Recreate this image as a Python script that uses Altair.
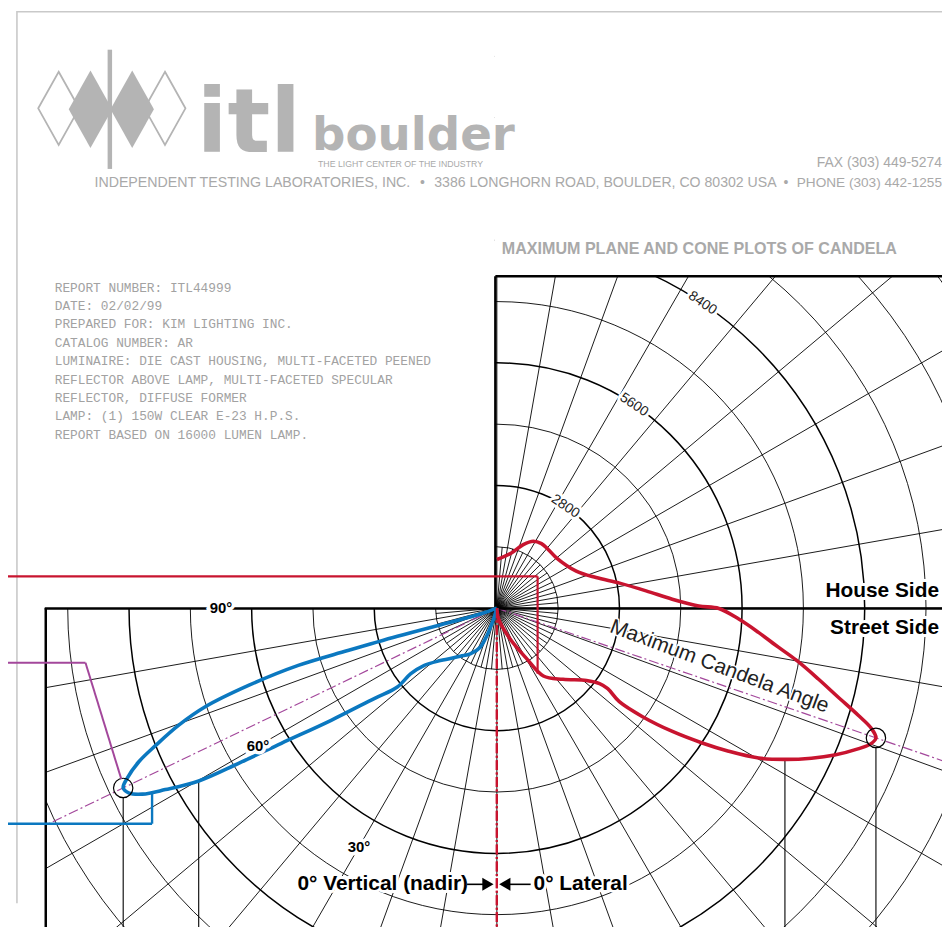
import altair as alt
import pandas as pd

# ---------------- values ----------------
# Cone plot of candela (red): lateral angle in degrees, 0 = "0° Lateral" (straight down), 180 = straight up
red_lateral_deg = [0, 8.8, 23.2, 30.5, 34.4, 42.9, 51.1, 53.7, 54.0, 52.6,
                   53.3, 54.9, 56.7, 58.3, 60.2, 62.3, 64.5, 66.5, 68.7, 70.1,
                   71.1, 72.2, 73.5, 75.4, 77.6, 80.1, 82.1, 84.7, 87.4, 89.9,
                   90.6, 92.9, 96.6, 101.5, 107.1, 115.0, 130.2, 138.8, 145.3, 151.4,
                   157.4, 164.9, 180.0]
red_candela = [0, 250, 770, 1340, 1880, 2220, 2630, 2910, 3130, 3520,
               4150, 4900, 5610, 6220, 6890, 7430, 7960, 8410, 8850, 9090,
               9150, 8980, 8600, 8050, 7510, 6950, 6490, 6000, 5530, 5070,
               4610, 4010, 3430, 2860, 2370, 2000, 1780, 1780, 1790, 1740,
               1570, 1310, 1110]

# Maximum plane (blue): vertical angle in degrees from nadir (0° Vertical)
blue_vertical_deg = [15, 16.7, 19.9, 23.0, 30.1, 37.2, 47.1, 51.8, 52.7, 51.6,
                     53.6, 55.9, 57.9, 59.0, 59.9, 61.3, 62.3, 63.3, 64.3, 65.3,
                     66.8, 68.1, 69.8, 71.3, 72.7, 73.9, 74.1, 74.2, 73.3, 70.2,
                     70]
blue_candela = [0, 260, 670, 970, 1210, 1380, 1760, 2120, 2470, 2900,
                3480, 4570, 5810, 6880, 7870, 8630, 9140, 9400, 9470, 9290,
                8890, 8390, 7740, 7030, 5940, 4720, 3540, 2360, 1180, 400,
                0]

ring_step = 1400            # candela between grid circles
ring_count = 10
ring_labels = [2800, 5600, 8400]
ring_label_angle = 34       # degrees from the upward axis
vertical_angle_labels = [90, 60, 30]
vertical_label_radius = 6300

report_lines = [
    "REPORT NUMBER: ITL44999",
    "DATE: 02/02/99",
    "PREPARED FOR: KIM LIGHTING INC.",
    "CATALOG NUMBER: AR",
    "LUMINAIRE: DIE CAST HOUSING, MULTI-FACETED PEENED",
    "REFLECTOR ABOVE LAMP, MULTI-FACETED SPECULAR",
    "REFLECTOR, DIFFUSE FORMER",
    "LAMP: (1) 150W CLEAR E-23 H.P.S.",
    "REPORT BASED ON 16000 LUMEN LAMP.",
]
address_parts = ["INDEPENDENT TESTING LABORATORIES, INC.",
                 "3386 LONGHORN ROAD, BOULDER, CO 80302 USA",
                 "PHONE (303) 442-1255"]
fax_text = "FAX (303) 449-5274"
tagline = "THE LIGHT CENTER OF THE INDUSTRY"
plot_title = "MAXIMUM PLANE AND CONE PLOTS OF CANDELA"

# ---------------- layout ----------------
W, H = 940, 922
PAGE = 8
K = 61.7 / ring_step            # pixels per candela
OX, OY = 500 - PAGE, 609 - PAGE  # photometric centre in chart pixels
XD = [-OX / K, (W - OX) / K]
YD = [-(H - OY) / K, OY / K]
RED = "#c8142f"
BLUE = "#0b78c0"
PURPLE = "#a3479b"
GREY = "#a9a9a9"
LOGO = "#b4b4b4"
SANS = "Liberation Sans"

XS = alt.Scale(domain=XD, nice=False, zero=False)
YS = alt.Scale(domain=YD, nice=False, zero=False)


def ex(f):
    return alt.X(f, type="quantitative", scale=XS, axis=None)


def ey(f):
    return alt.Y(f, type="quantitative", scale=YS, axis=None)


def px(x):
    return x - PAGE


def py(y):
    return y - PAGE


one = pd.DataFrame({"k": [0]})
layers = []


def seg(x1, y1, x2, y2, color, width, dash=None):
    kw = dict(color=color, strokeWidth=width)
    if dash:
        kw["strokeDash"] = dash
    return alt.Chart(one).mark_rule(**kw).encode(
        x=alt.value(px(x1)), y=alt.value(py(y1)), x2=alt.value(px(x2)), y2=alt.value(py(y2)))


def rect(x1, y1, x2, y2, color="white"):
    return alt.Chart(one).mark_rect(color=color, opacity=1).encode(
        x=alt.value(px(x1)), x2=alt.value(px(x2)), y=alt.value(py(y1)), y2=alt.value(py(y2)))


def label(txt, x, y, size, weight="normal", color="black", align="left",
          baseline="alphabetic", font=SANS, angle=0, halo=0):
    base = alt.Chart(pd.DataFrame({"t": [txt]}))
    kw = dict(align=align, baseline=baseline, font=font, fontSize=size,
              fontWeight=weight, angle=angle)
    enc = dict(x=alt.value(px(x)), y=alt.value(py(y)), text="t:N")
    out = []
    if halo:
        out.append(base.mark_text(color="white", stroke="white", strokeWidth=halo,
                                  strokeJoin="round", **kw).encode(**enc))
    out.append(base.mark_text(color=color, **kw).encode(**enc))
    return out


def symbol(shape, x, y, size, color, filled=True, sw=1.5):
    kw = dict(shape=shape, size=size, color=color, filled=filled, opacity=1)
    if not filled:
        kw["strokeWidth"] = sw
    return alt.Chart(one).mark_point(**kw).encode(x=alt.value(px(x)), y=alt.value(py(y)))


# ---------------- polar grid ----------------
rings = alt.Chart(pd.DataFrame({"n": list(range(1, ring_count + 1))})).transform_calculate(
    r=f"datum.n * {ring_step}",
    area=f"pow(2 * datum.r * {K}, 2)",
    sw="datum.n % 2 == 0 && datum.n <= 6 ? 1.5 : 0.9",
    o="0",
).mark_point(shape="circle", filled=False, color="black", opacity=1, clip=True).encode(
    x=ex("o:Q"), y=ey("o:Q"),
    size=alt.Size("area:Q", scale=None),
    strokeWidth=alt.StrokeWidth("sw:Q", scale=None),
)
layers.append(rings)

spoke_df = pd.DataFrame({
    "a": list(range(0, 360, 10)) + list(range(5, 360, 10)),
    "R": [30000] * 36 + [ring_step] * 36,
})
spokes = alt.Chart(spoke_df).transform_calculate(
    o="0",
    x2="datum.R * sin(datum.a * PI / 180)",
    y2="-datum.R * cos(datum.a * PI / 180)",
).mark_rule(color="black", strokeWidth=0.9, clip=True).encode(
    x=ex("o:Q"), y=ey("o:Q"), x2="x2:Q", y2="y2:Q")
layers.append(spokes)

# ---------------- curve tables ----------------
red_df = pd.DataFrame({"ang": red_lateral_deg, "cd": red_candela})
red_df["i"] = range(len(red_df))
red_df["sgn"] = 1
blue_df = pd.DataFrame({"ang": blue_vertical_deg, "cd": blue_candela})
blue_df["i"] = range(len(blue_df))
blue_df["sgn"] = -1

ri = red_candela.index(max(red_candela))
bi = blue_candela.index(max(blue_candela))
max_df = pd.DataFrame({
    "ang": [red_lateral_deg[ri], blue_vertical_deg[bi]],
    "cd": [red_candela[ri], blue_candela[bi]],
    "sgn": [1, -1],
})
XCALC = "datum.sgn * datum.cd * sin(datum.ang * PI / 180)"
YCALC = "-datum.cd * cos(datum.ang * PI / 180)"

# maximum candela angle lines (dash-dot)
maxlines = alt.Chart(max_df).transform_calculate(
    o="0",
    x2="datum.sgn * 30000 * sin(datum.ang * PI / 180)",
    y2="-30000 * cos(datum.ang * PI / 180)",
).mark_rule(color=PURPLE, strokeWidth=1.2, strokeDash=[10, 3, 2, 3], clip=True).encode(
    x=ex("o:Q"), y=ey("o:Q"), x2="x2:Q", y2="y2:Q")
layers.append(maxlines)

# projection lines dropped from the curves
drop_df = pd.DataFrame({
    "ang": [blue_vertical_deg[bi], blue_vertical_deg[14], red_lateral_deg[ri], red_lateral_deg[15]],
    "cd": [blue_candela[bi], blue_candela[14], red_candela[ri], red_candela[15]],
    "sgn": [-1, -1, 1, 1],
    "off": [9.5 / K, 0, 9.5 / K, 0],
})
drops = alt.Chart(drop_df).transform_calculate(
    x=XCALC, y=YCALC + " - datum.off", y2="-30000",
).mark_rule(color="black", strokeWidth=1.1, clip=True).encode(
    x=ex("x:Q"), y=ey("y:Q"), y2="y2:Q")
layers.append(drops)

# ---------------- masks outside the two plot frames ----------------
layers += [rect(PAGE, PAGE, 498, 609), rect(498, PAGE, PAGE + W, 275), rect(PAGE, 609, 46, PAGE + H)]
# gap around the nadir arrows
layers.append(rect(473, 879, 534, 894))

# frames
layers += [
    seg(498.5, 275, PAGE + W, 275, "black", 2.5),
    seg(498.5, 275, 498.5, 610, "black", 2.5),
    seg(45, 609.5, PAGE + W, 609.5, "black", 2.5),
    seg(46, 609, 46, PAGE + H, "black", 2.5),
]
# page border
layers += [
    seg(17, PAGE + 0.8, PAGE + W, PAGE + 0.8, "#c9c9c9", 1.6),
    seg(17, PAGE, 17, 906, "#c9c9c9", 1.6),
]

# nadir line
nadir = alt.Chart(one).transform_calculate(o="0", y2="-30000").mark_rule(
    color=RED, strokeWidth=2.2, strokeDash=[10, 2.5, 2, 2.5], clip=True).encode(
    x=ex("o:Q"), y=ey("o:Q"), y2="y2:Q")
layers.append(nadir)

# ---------------- curves ----------------
for df, col in [(red_df, RED), (blue_df, BLUE)]:
    layers.append(alt.Chart(df).transform_calculate(x=XCALC, y=YCALC).mark_line(
        color=col, strokeWidth=3.6, interpolate="catmull-rom", clip=True, strokeJoin="round").encode(
        x=ex("x:Q"), y=ey("y:Q"), order=alt.Order("i:Q")))

layers.append(alt.Chart(max_df).transform_calculate(x=XCALC, y=YCALC).mark_point(
    shape="circle", filled=False, color="black", size=380, strokeWidth=1.2, opacity=1).encode(
    x=ex("x:Q"), y=ey("y:Q")))

# leader lines to the (off-page) table
layers += [
    seg(PAGE, 577, 541, 577, RED, 2.2), seg(541, 577, 541, 675, RED, 2.2),
    seg(PAGE, 664, 86, 664, PURPLE, 2), seg(86, 664, 122, 781, PURPLE, 2),
    seg(PAGE, 826, 153, 826, BLUE, 2.4), seg(153, 826, 153, 795, BLUE, 2.4),
]

# ---------------- grid labels ----------------
ring_lab = alt.Chart(pd.DataFrame({"v": ring_labels})).transform_calculate(
    x=f"datum.v * sin({ring_label_angle} * PI / 180)",
    y=f"datum.v * cos({ring_label_angle} * PI / 180)",
    t="'' + datum.v",
)
rl_kw = dict(angle=ring_label_angle, fontSize=14, font=SANS, align="center", baseline="middle")
layers.append(ring_lab.mark_text(color="white", stroke="white", strokeWidth=6, **rl_kw).encode(
    x=ex("x:Q"), y=ey("y:Q"), text="t:N"))
layers.append(ring_lab.mark_text(color="#222222", **rl_kw).encode(
    x=ex("x:Q"), y=ey("y:Q"), text="t:N"))

vert_lab = alt.Chart(pd.DataFrame({"a": vertical_angle_labels})).transform_calculate(
    x=f"-{vertical_label_radius} * sin(datum.a * PI / 180)",
    y=f"-{vertical_label_radius} * cos(datum.a * PI / 180)",
    t="datum.a + '°'",
)
vl_kw = dict(fontSize=15, fontWeight="bold", font=SANS, align="center", baseline="middle")
layers.append(vert_lab.mark_text(color="white", stroke="white", strokeWidth=7, **vl_kw).encode(
    x=ex("x:Q"), y=ey("y:Q"), text="t:N"))
layers.append(vert_lab.mark_text(color="black", **vl_kw).encode(
    x=ex("x:Q"), y=ey("y:Q"), text="t:N"))

layers += label("House Side", 945, 598, 21, "bold", align="right", halo=6)
layers += label("Street Side", 945, 635, 21, "bold", align="right", halo=6)
layers += label("Maximum Candela Angle", 724, 668, 21, angle=20.5, align="center",
                baseline="middle", color="#222222", halo=3)
layers += label("0° Vertical (nadir)", 471, 893, 21, "bold", align="right", halo=6)
layers += label("0° Lateral", 537, 893, 21, "bold", align="left", halo=6)
layers += [
    seg(470, 887, 489, 887, "black", 1.6),
    symbol("triangle-right", 491, 887, 170, "black"),
    seg(511, 887, 534, 887, "black", 1.6),
    symbol("triangle-left", 508, 887, 170, "black"),
]
layers.append(nadir)

# ---------------- header ----------------
diamond = "M0,-1L0.56,0L0,1L-0.56,0Z"
layers += [
    symbol(diamond, 59, 106, 5400, LOGO, filled=False, sw=1.8),
    symbol(diamond, 166, 106, 5400, LOGO, filled=False, sw=1.8),
    symbol(diamond, 91, 107, 6100, LOGO),
    symbol(diamond, 133, 107, 6100, LOGO),
    seg(110.5, 47, 110.5, 167, LOGO, 4.5),
]
layers += label("itl", 198, 150, 90, "bold", color=LOGO, font="DejaVu Sans")
layers += label("boulder", 314, 148, 47, "bold", color=LOGO, font="DejaVu Sans")
layers += label(tagline, 320, 165, 8.8, color=GREY)
layers += label(fax_text, 948, 165, 14, color=GREY, align="right")
layers += label(address_parts[0], 95, 185, 14.3, color=GREY)
layers += label("•", 425, 185, 14, color=GREY, align="center")
layers += label(address_parts[1], 437, 185, 14.2, color=GREY)
layers += label("•", 791, 185, 14, color=GREY, align="center")
layers += label(address_parts[2], 948, 185, 13.7, color=GREY, align="right")
layers += label(plot_title, 505, 253, 16.2, "bold", color=GREY)

report = alt.Chart(pd.DataFrame({"t": report_lines, "i": range(len(report_lines))})).transform_calculate(
    yy=f"{py(290.5)} + 18.5 * datum.i").mark_text(
    align="left", baseline="alphabetic", font="Liberation Mono", fontSize=12.9, color="#a2a2a2").encode(
    x=alt.value(px(55)), y=alt.Y("yy:Q", scale=None, axis=None), text="t:N")
layers.append(report)

chart = alt.layer(*layers).properties(
    width=W, height=H, padding=0, autosize=alt.AutoSizeParams(type="none")
).configure_view(strokeWidth=0)

chart.save("out.html", embed_options={"renderer": "svg", "actions": False})
